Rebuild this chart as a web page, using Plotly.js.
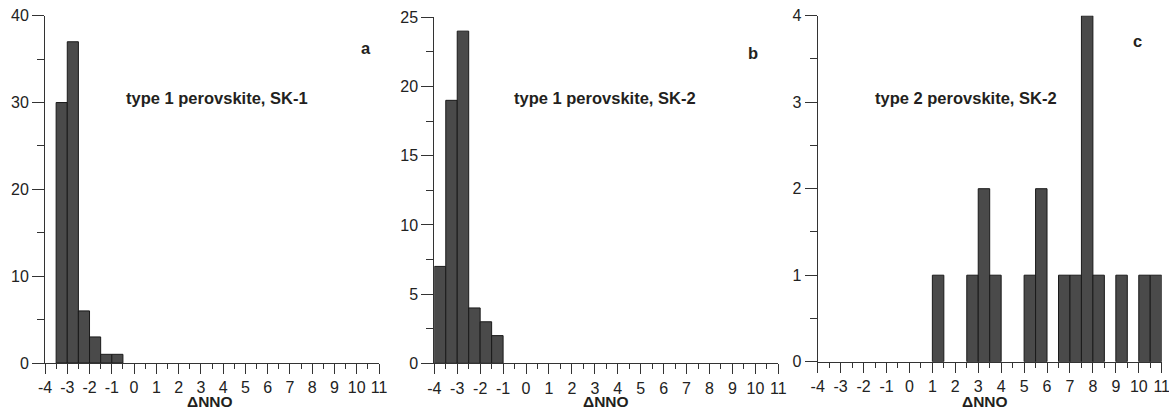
<!DOCTYPE html>
<html>
<head>
<meta charset="utf-8">
<script src="https://cdn.plot.ly/plotly-3.0.1.min.js"></script>
<style>html,body{margin:0;padding:0;background:#fff;}#chart{width:1169px;height:409px;}</style>
</head>
<body>
<div id="chart"></div>
<script>
// Bin starts (ΔNNO) and counts, bin width 0.5
const binWidth = 0.5;
const binStartsA = [-3.5, -3, -2.5, -2, -1.5, -1];
const countsA = [30, 37, 6, 3, 1, 1];
const binStartsB = [-4, -3.5, -3, -2.5, -2, -1.5];
const countsB = [7, 19, 24, 4, 3, 2];
const binStartsC = [1, 2.5, 3, 3.5, 5, 5.5, 6.5, 7, 7.5, 8, 9, 10, 10.5];
const countsC = [1, 1, 2, 1, 1, 2, 1, 1, 4, 1, 1, 1, 1];
const xTickVals = [-4,-3,-2,-1,0,1,2,3,4,5,6,7,8,9,10,11];
const xTickText = ['-4','-3','-2','-1','0','1','2','3','4','5','6','7','8','9','10','11'];
const panelLabels = ['a', 'b', 'c'];
const panelTitles = ['type 1 perovskite, SK-1', 'type 1 perovskite, SK-2', 'type 2 perovskite, SK-2'];
const xTitle = 'ΔNNO';

const W = 1169, H = 409;
const px = v => v / W;
const py = v => (H - v) / H;

function barTrace(starts, counts, xa, ya) {
  return {
    type: 'bar',
    x: starts.map(s => s + binWidth / 2),
    y: counts,
    width: starts.map(() => binWidth),
    xaxis: xa, yaxis: ya,
    marker: { color: '#4a4a4a', line: { color: '#1a1a1a', width: 1 } },
    showlegend: false, hoverinfo: 'x+y'
  };
}

const font = { family: 'Liberation Sans, Arial, sans-serif', size: 16, color: '#222' };

function xAxis(domain, anchor) {
  return {
    domain: domain, anchor: anchor, range: [-4, 11],
    showline: true, linecolor: '#333', linewidth: 1,
    showgrid: false, zeroline: false,
    ticks: 'outside', ticklen: 10, tickcolor: '#333', tickwidth: 1,
    tickmode: 'array', tickvals: xTickVals, ticktext: xTickText, tickangle: 0,
    ticklabeloverflow: 'allow',
    minor: { ticks: 'outside', ticklen: 5, tickcolor: '#333', tick0: -4, dtick: 0.5, showgrid: false },
    tickfont: font, fixedrange: true
  };
}
function yAxis(domain, anchor, max, dtick) {
  return {
    domain: domain, anchor: anchor, range: [0, max],
    showline: true, linecolor: '#333', linewidth: 1,
    showgrid: false, zeroline: false,
    ticks: 'outside', ticklen: 12, tickcolor: '#333', tickwidth: 1,
    tick0: 0, dtick: dtick,
    minor: { ticks: 'outside', ticklen: 7, tickcolor: '#333', dtick: dtick / 2, showgrid: false },
    tickfont: font, fixedrange: true
  };
}

const data = [
  barTrace(binStartsA, countsA, 'x', 'y'),
  barTrace(binStartsB, countsB, 'x2', 'y2'),
  barTrace(binStartsC, countsC, 'x3', 'y3')
];

const annFont = { family: 'Liberation Sans, Arial, sans-serif', size: 16.5, color: '#231f20', weight: 'bold' };
const titleFont = { family: 'Liberation Sans, Arial, sans-serif', size: 15.5, color: '#231f20', weight: 'bold' };

function ann(text, x, y, f) {
  return { text: '<b>' + text + '</b>', xref: 'paper', yref: 'paper', x: px(x), y: py(y),
    xanchor: 'center', yanchor: 'middle', showarrow: false, font: f };
}

const layout = {
  width: W, height: H,
  margin: { l: 0, r: 0, t: 0, b: 0 },
  paper_bgcolor: '#fff', plot_bgcolor: '#fff',
  bargap: 0,
  xaxis: xAxis([px(45), px(379)], 'y'),
  yaxis: yAxis([py(363), py(15.7)], 'x', 40, 10),
  xaxis2: xAxis([px(434.3), px(778.3)], 'y2'),
  yaxis2: yAxis([py(363.3), py(17.3)], 'x2', 25, 5),
  xaxis3: xAxis([px(817.7), px(1161.7)], 'y3'),
  yaxis3: yAxis([py(361.7), py(15.7)], 'x3', 4, 1),
  annotations: [
    ann(panelTitles[0], 216.5, 97.7, annFont),
    ann(panelTitles[1], 605, 97.7, annFont),
    ann(panelTitles[2], 966, 98, annFont),
    ann(panelLabels[0], 366, 47.7, annFont),
    ann(panelLabels[1], 752.7, 52.7, annFont),
    ann(panelLabels[2], 1137, 40.7, annFont),
    ann(xTitle, 210, 401.5, titleFont),
    ann(xTitle, 606, 401.5, titleFont),
    ann(xTitle, 985, 401.5, titleFont)
  ]
};

Plotly.newPlot('chart', data, layout, { staticPlot: true, displayModeBar: false });
</script>
</body>
</html>
